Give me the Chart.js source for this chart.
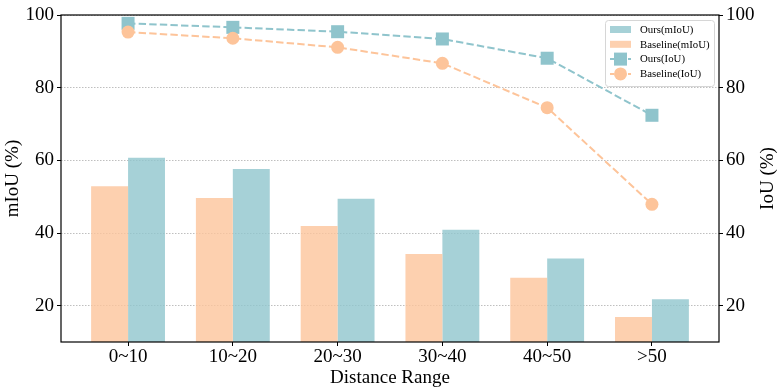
<!DOCTYPE html>
<html>
<head>
<meta charset="utf-8">
<script src="https://cdn.jsdelivr.net/npm/chart.js@4/dist/chart.umd.min.js"></script>
<style>
  body { margin: 0; background: #fff; }
  #wrap { width: 780px; height: 389px; }
</style>
</head>
<body>
<div id="wrap"><canvas id="distChart" width="780" height="389"></canvas></div>
<script>
const categories = ['0~10', '10~20', '20~30', '30~40', '40~50', '>50'];
const oursMiou = [60.7, 57.6, 49.4, 40.9, 33.0, 21.8];
const baseMiou = [52.9, 49.6, 41.9, 34.2, 27.7, 16.9];
const oursIou = [97.7, 96.6, 95.4, 93.4, 88.1, 72.4];
const baseIou = [95.3, 93.6, 91.1, 86.7, 74.5, 47.9];
const yTicks = [20, 40, 60, 80, 100];

const BLUE = 'rgb(143,196,204)';
const ORANGE = 'rgb(253,196,154)';
const BLUE_BAR = 'rgba(144,197,205,0.8)';
const ORANGE_BAR = 'rgba(253,196,155,0.8)';

const toXY = arr => arr.map((v, i) => ({ x: i, y: v }));

Chart.defaults.font.family = '"Liberation Serif", "Times New Roman", serif';
Chart.defaults.color = '#000';

// box around the plot area, like matplotlib spines
const framePlugin = {
  id: 'frame',
  afterDatasetsDraw(chart) {
    const { ctx, chartArea: a } = chart;
    ctx.save();
    ctx.strokeStyle = '#000';
    ctx.lineWidth = 1.2;
    ctx.strokeRect(a.left, a.top, a.right - a.left, a.bottom - a.top);
    ctx.restore();
  }
};

// right axis title reads bottom-to-top, same as the left one
const rightTitlePlugin = {
  id: 'rightTitle',
  afterDraw(chart) {
    const { ctx, chartArea: a } = chart;
    ctx.save();
    ctx.translate(768, (a.top + a.bottom) / 2);
    ctx.rotate(-Math.PI / 2);
    ctx.font = '19px "Liberation Serif"';
    ctx.fillStyle = '#000';
    ctx.textAlign = 'center';
    ctx.textBaseline = 'middle';
    ctx.fillText('IoU (%)', 0, 0);
    ctx.restore();
  }
};

// legend with bar swatches and line+marker swatches
const legendPlugin = {
  id: 'mixLegend',
  afterDraw(chart) {
    const { ctx } = chart;
    const ds = chart.data.datasets;
    const order = [3, 1, 2, 0];
    const x0 = 605, y0 = 20, w = 109, h = 66;
    ctx.save();
    ctx.fillStyle = 'rgba(255,255,255,0.85)';
    ctx.strokeStyle = '#d6d6d6';
    ctx.lineWidth = 1;
    ctx.beginPath();
    ctx.roundRect(x0 + 0.5, y0 + 0.5, w, h, 3);
    ctx.fill();
    ctx.stroke();
    ctx.font = '10.8px "Liberation Serif"';
    ctx.textBaseline = 'middle';
    order.forEach((k, row) => {
      const d = ds[k];
      const cy = y0 + 9.5 + row * 14.8;
      if (d.type === 'bar') {
        ctx.fillStyle = d.backgroundColor;
        ctx.fillRect(610, cy - 3.5, 21, 7);
      } else {
        ctx.strokeStyle = d.borderColor;
        ctx.lineWidth = 2;
        ctx.setLineDash([4, 2]);
        ctx.beginPath();
        ctx.moveTo(610, cy);
        ctx.lineTo(631, cy);
        ctx.stroke();
        ctx.setLineDash([]);
        ctx.fillStyle = d.pointBackgroundColor;
        if (d.pointStyle === 'rect') {
          ctx.fillRect(614, cy - 6.5, 13, 13);
        } else {
          ctx.beginPath();
          ctx.arc(620.5, cy, 6.5, 0, Math.PI * 2);
          ctx.fill();
        }
      }
      ctx.fillStyle = '#000';
      ctx.fillText(d.label, 640, cy + 0.5);
    });
    ctx.restore();
  }
};

new Chart(document.getElementById('distChart').getContext('2d'), {
  data: {
    datasets: [
      {
        type: 'line', label: 'Baseline(IoU)', data: toXY(baseIou), yAxisID: 'y1', order: 0,
        borderColor: ORANGE, borderWidth: 2, borderDash: [7.4, 3.2],
        pointStyle: 'circle', pointRadius: 6.5, pointBackgroundColor: ORANGE, pointBorderWidth: 0
      },
      {
        type: 'bar', label: 'Baseline(mIoU)', data: toXY(baseMiou), yAxisID: 'y', order: 2,
        backgroundColor: ORANGE_BAR, borderWidth: 0,
        categoryPercentage: 0.705, barPercentage: 1.0
      },
      {
        type: 'line', label: 'Ours(IoU)', data: toXY(oursIou), yAxisID: 'y1', order: 1,
        borderColor: BLUE, borderWidth: 2, borderDash: [7.4, 3.2],
        pointStyle: 'rect', pointRadius: 9.2, pointBackgroundColor: BLUE, pointBorderWidth: 0
      },
      {
        type: 'bar', label: 'Ours(mIoU)', data: toXY(oursMiou), yAxisID: 'y', order: 2,
        backgroundColor: BLUE_BAR, borderWidth: 0,
        categoryPercentage: 0.705, barPercentage: 1.0
      }
    ]
  },
  options: {
    responsive: false,
    animation: false,
    layout: { padding: { top: 15, left: 0, right: 0, bottom: 0 } },
    plugins: { legend: { display: false }, tooltip: { enabled: false } },
    scales: {
      x: {
        type: 'linear',
        offset: false,
        min: -0.64, max: 5.64,
        afterBuildTicks: s => { s.ticks = categories.map((c, i) => ({ value: i })); },
        afterFit: s => { s.height = 47; },
        ticks: { callback: v => categories[v], font: { size: 19 }, padding: 0, maxRotation: 0 },
        grid: { offset: false, drawOnChartArea: false, drawTicks: true, tickLength: 4, tickColor: '#000', tickWidth: 1 },
        border: { display: false },
        title: { display: true, text: 'Distance Range', font: { size: 19 }, padding: { top: 0, bottom: 0 } }
      },
      y: {
        position: 'left',
        min: 10, max: 100,
        afterBuildTicks: s => { s.ticks = yTicks.map(v => ({ value: v })); },
        afterFit: s => { s.width = 61; },
        ticks: { font: { size: 19 }, padding: 3 },
        grid: { color: 'rgba(0,0,0,0.25)', lineWidth: 1, tickLength: 4, tickColor: '#000', tickWidth: 1, tickBorderDash: [] },
        border: { display: false, dash: [1.5, 1.5] },
        title: { display: true, text: 'mIoU (%)', font: { size: 19 }, padding: { top: 2, bottom: 0 } }
      },
      y1: {
        position: 'right',
        min: 10, max: 100,
        afterBuildTicks: s => { s.ticks = yTicks.map(v => ({ value: v })); },
        afterFit: s => { s.width = 61; },
        ticks: { font: { size: 19 }, padding: 3 },
        grid: { drawOnChartArea: false, tickLength: 4, tickColor: '#000', tickWidth: 1 },
        border: { display: false },
        title: { display: false }
      }
    }
  },
  plugins: [framePlugin, rightTitlePlugin, legendPlugin]
});
</script>
</body>
</html>
